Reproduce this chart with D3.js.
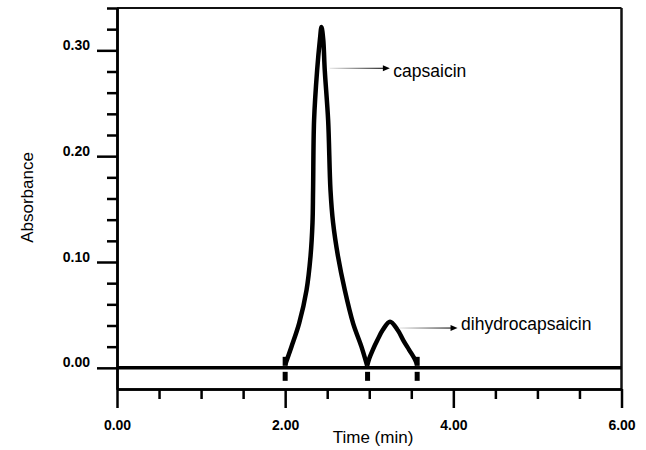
<!DOCTYPE html>
<html>
<head>
<meta charset="utf-8">
<script src="https://cdn.jsdelivr.net/npm/d3@7"></script>
<style>
  html, body { margin: 0; padding: 0; background: #fff; }
  svg { display: block; font-family: "Liberation Sans", Arial, sans-serif; }
</style>
</head>
<body>
<svg id="chart" width="646" height="450"></svg>
<script>
// chromatogram trace (time in min, absorbance)
const capsaicinTime = [2.00, 2.075, 2.166, 2.254, 2.301, 2.325, 2.332, 2.344, 2.380, 2.413, 2.432, 2.453, 2.471, 2.511, 2.539, 2.570, 2.629, 2.709, 2.808, 2.907, 2.975];
const capsaicinAbs  = [0.003, 0.020, 0.042, 0.0735, 0.105, 0.137, 0.168, 0.234, 0.281, 0.310, 0.322, 0.310, 0.281, 0.234, 0.168, 0.137, 0.105, 0.0735, 0.042, 0.020, 0.002];
const dihydroTime = [2.975, 3.001, 3.041, 3.096, 3.160, 3.247, 3.338, 3.405, 3.476, 3.536, 3.570];
const dihydroAbs  = [0.002, 0.009, 0.0168, 0.026, 0.0357, 0.0436, 0.0357, 0.026, 0.0168, 0.009, 0.003];

// integration marks (peak start / end)
const markTimes = [2.00, 2.98, 3.57];
const upperMarkTimes = [2.00, 3.57];

const peakLabels = ['capsaicin', 'dihydrocapsaicin'];

const xMajorTicks = [0, 2, 4, 6];
const xMinorTicks = [0.5, 1, 1.5, 2.5, 3, 3.5, 4.5, 5, 5.5];
const yMajorTicks = [0, 0.1, 0.2, 0.3];
const yMinorTicks = [0.02, 0.04, 0.06, 0.08, 0.12, 0.14, 0.16, 0.18, 0.22, 0.24, 0.26, 0.28, 0.32, 0.34];

const svg = d3.select('#chart');
const x = d3.scaleLinear().domain([0, 6]).range([117, 621.5]);
const y = d3.scaleLinear().domain([-0.02, 0.34]).range([389, 8]);

const defs = svg.append('defs');
const grad = defs.append('linearGradient').attr('id', 'arrowGrad')
  .attr('x1', '0%').attr('x2', '100%').attr('y1', '0%').attr('y2', '0%');
grad.append('stop').attr('offset', '0%').attr('stop-color', '#e8e8e8');
grad.append('stop').attr('offset', '100%').attr('stop-color', '#222');

// frame: top and right
svg.append('line')
  .attr('x1', x(0)).attr('x2', x(6)).attr('y1', y(0.34)).attr('y2', y(0.34))
  .attr('stroke', '#111').attr('stroke-width', 2);
svg.append('line')
  .attr('x1', x(6)).attr('x2', x(6)).attr('y1', y(0.34)).attr('y2', y(-0.02))
  .attr('stroke', '#111').attr('stroke-width', 2.5);

// y axis
const yMinorAxis = svg.append('g').attr('transform', `translate(${x(0)},0)`)
  .call(d3.axisLeft(y).tickValues(yMinorTicks).tickSize(10).tickSizeOuter(0).tickFormat(''));
const yMajorAxis = svg.append('g').attr('transform', `translate(${x(0)},0)`)
  .call(d3.axisLeft(y).tickValues(yMajorTicks).tickSize(20).tickSizeOuter(0).tickFormat(d3.format('.2f')));
yMajorAxis.selectAll('text')
  .attr('x', -27).attr('dy', -1)
  .attr('font-size', 14).attr('font-weight', 'bold').attr('fill', '#000')
  .attr('font-family', '"Liberation Sans", Arial, sans-serif');

// x axis
const xMinorAxis = svg.append('g').attr('transform', `translate(0,${y(-0.02)})`)
  .call(d3.axisBottom(x).tickValues(xMinorTicks).tickSize(10).tickSizeOuter(0).tickFormat(''));
const xMajorAxis = svg.append('g').attr('transform', `translate(0,${y(-0.02)})`)
  .call(d3.axisBottom(x).tickValues(xMajorTicks).tickSize(19).tickSizeOuter(0).tickFormat(d3.format('.2f')));
xMajorAxis.selectAll('text')
  .attr('y', 41).attr('dy', 0)
  .attr('font-size', 14).attr('font-weight', 'bold').attr('fill', '#000')
  .attr('font-family', '"Liberation Sans", Arial, sans-serif');

[yMinorAxis, yMajorAxis, xMinorAxis, xMajorAxis].forEach(g => {
  g.selectAll('path, line').attr('stroke', '#000').attr('stroke-width', 2.5);
});

// baseline at 0.00
svg.append('line')
  .attr('x1', x(0)).attr('x2', x(6)).attr('y1', y(0)).attr('y2', y(0))
  .attr('stroke', '#000').attr('stroke-width', 3.5);

// integration marks
svg.append('g').selectAll('rect.lower').data(markTimes).enter().append('rect')
  .attr('class', 'lower')
  .attr('x', d => x(d) - 2.5).attr('y', y(0) + 4).attr('width', 5).attr('height', 9)
  .attr('fill', '#000');
svg.append('g').selectAll('rect.upper').data(upperMarkTimes).enter().append('rect')
  .attr('class', 'upper')
  .attr('x', d => x(d) - 2.5).attr('y', y(0) - 11).attr('width', 5).attr('height', 9)
  .attr('fill', '#000');

// trace
const line = d3.line().x(d => x(d[0])).y(d => y(d[1])).curve(d3.curveCatmullRom.alpha(0.5));
[[capsaicinTime, capsaicinAbs], [dihydroTime, dihydroAbs]].forEach(([ts, as]) => {
  svg.append('path')
    .datum(ts.map((t, i) => [t, as[i]]))
    .attr('d', line)
    .attr('fill', 'none').attr('stroke', '#000')
    .attr('stroke-width', 4.5).attr('stroke-linejoin', 'round').attr('stroke-linecap', 'butt');
});

// peak annotations
const notes = [
  { from: 2.53, to: 3.245, a: 0.283, textY: 77 },
  { from: 3.36, to: 4.05, a: 0.0376, textY: 329.5 }
];
notes.forEach((n, i) => {
  const x0 = x(n.from), x1 = x(n.to), yy = y(n.a);
  svg.append('rect')
    .attr('x', x0).attr('y', yy - 0.6).attr('width', x1 - x0 - 6).attr('height', 1.2)
    .attr('fill', 'url(#arrowGrad)');
  svg.append('path')
    .attr('d', `M${x1},${yy} L${x1 - 7},${yy - 3} L${x1 - 7},${yy + 3} Z`)
    .attr('fill', '#000');
  svg.append('text')
    .attr('x', x1 + 3.5).attr('y', n.textY)
    .attr('font-size', 17.5).attr('fill', '#000')
    .text(peakLabels[i]);
});

// axis titles
svg.append('text')
  .attr('x', 373).attr('y', 443).attr('text-anchor', 'middle')
  .attr('font-size', 17).attr('fill', '#000')
  .text('Time (min)');
svg.append('text')
  .attr('transform', 'translate(32.5,197.5) rotate(-90)')
  .attr('text-anchor', 'middle')
  .attr('font-size', 17).attr('fill', '#000')
  .text('Absorbance');
</script>
</body>
</html>
